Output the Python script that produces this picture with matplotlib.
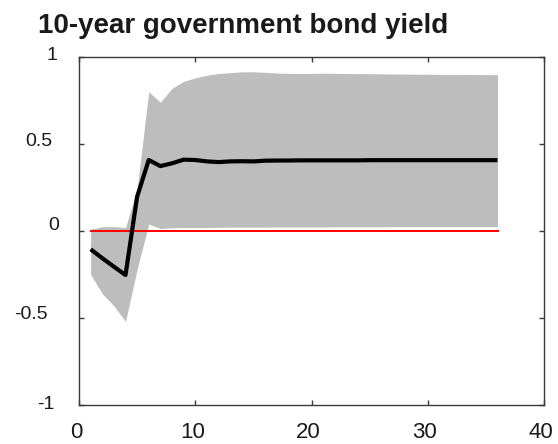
import numpy as np
import matplotlib
matplotlib.use("Agg")
import matplotlib.pyplot as plt
from matplotlib.transforms import ScaledTranslation

plt.rcParams["font.family"] = ["Liberation Sans", "DejaVu Sans"]

# Impulse response horizon (quarters)
horizon = list(range(1, 37))

# Median response of the 10-year yield
median = [-0.105, -0.156, -0.205, -0.253, 0.197, 0.408, 0.373, 0.389, 0.410, 0.408,
          0.400, 0.396, 0.400, 0.401, 0.400, 0.404, 0.405, 0.405, 0.406, 0.406,
          0.406, 0.406, 0.406, 0.406, 0.407, 0.407, 0.407, 0.407, 0.407, 0.407,
          0.407, 0.407, 0.407, 0.407, 0.407, 0.407]

# Upper and lower bounds of the credible band
upper = [0.010, 0.025, 0.025, 0.020, 0.240, 0.800, 0.740, 0.820, 0.860, 0.880,
         0.895, 0.905, 0.910, 0.915, 0.915, 0.912, 0.908, 0.906, 0.905, 0.906,
         0.907, 0.906, 0.905, 0.905, 0.904, 0.903, 0.902, 0.902, 0.901, 0.901,
         0.900, 0.900, 0.900, 0.899, 0.899, 0.898]
lower = [-0.250, -0.360, -0.430, -0.520, -0.220, 0.040, 0.015, 0.018, 0.020, 0.020,
         0.020, 0.021, 0.022, 0.022, 0.022, 0.022, 0.023, 0.023, 0.023, 0.023,
         0.023, 0.024, 0.024, 0.024, 0.024, 0.024, 0.025, 0.025, 0.025, 0.025,
         0.025, 0.025, 0.025, 0.025, 0.025, 0.025]

x_ticks = [0, 10, 20, 30, 40]
y_ticks = [-1, -0.5, 0, 0.5, 1]
y_tick_labels = ["-1", "-0.5", "0", "0.5", "1"]
title = "10-year government bond yield"

# small per-label nudges (pixels) for the y tick labels
y_label_dx = [0, -7, 4, -2, 3]
y_label_dy = [3, 6, 8, 5, 4]

fig = plt.figure(figsize=(5.58, 4.44), dpi=100)
ax = fig.add_axes([79 / 558, 39 / 444, 465 / 558, 348 / 444])

ax.fill_between(horizon, lower, upper, color="#bdbdbd", linewidth=0, zorder=1)
ax.plot([horizon[0], horizon[-1]], [0, 0], color="#ff0000", lw=1.4, zorder=2)
ax.plot(horizon, median, color="black", lw=3.0, solid_joinstyle="round",
        solid_capstyle="butt", zorder=3)

ax.set_xlim(0, 40)
ax.set_ylim(-1, 1)
ax.set_xticks(x_ticks)
ax.set_yticks(y_ticks)
ax.set_yticklabels(y_tick_labels)

for s in ax.spines.values():
    s.set_color("#3a3a3a")
    s.set_linewidth(1.0)

ax.tick_params(axis="both", direction="in", length=3.6, width=1.0,
               color="#3a3a3a", top=True, right=True, labelcolor="#1a1a1a")
ax.tick_params(axis="y", pad=17.5, labelsize=14)
ax.tick_params(axis="x", pad=12.5, labelsize=16)

for lab, dx, dy in zip(ax.get_yticklabels(), y_label_dx, y_label_dy):
    lab.set_transform(lab.get_transform()
                      + ScaledTranslation(dx / 100, dy / 100, fig.dpi_scale_trans))
left_shift = ScaledTranslation(-3 / 100, 0, fig.dpi_scale_trans)
for lab in ax.get_xticklabels():
    lab.set_transform(lab.get_transform() + left_shift)

fig.text(38 / 558, 1 - 33 / 444, title, fontsize=20, fontweight="bold",
         ha="left", va="baseline", color="#1a1a1a")

fig.savefig("out.png", dpi=100)
